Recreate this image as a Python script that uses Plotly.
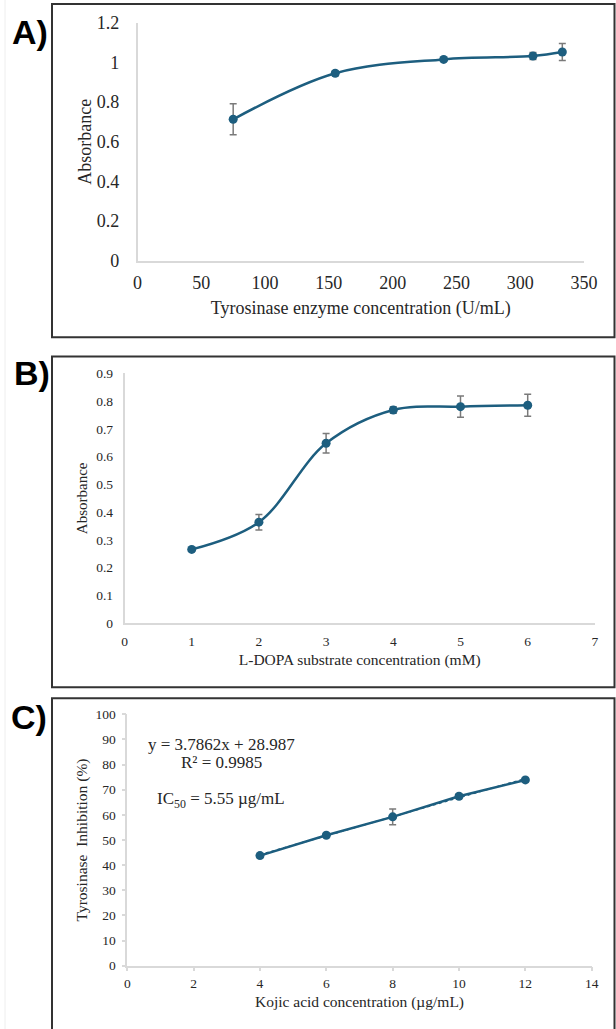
import plotly.graph_objects as go

W, H = 616, 1029

# ---------------- data ----------------
enzyme_conc = [75, 155, 240, 310, 333]
enzyme_abs = [0.713, 0.945, 1.015, 1.032, 1.052]
enzyme_err = [0.078, 0.012, 0.007, 0.018, 0.043]

dopa_conc = [1, 2, 3, 4, 5, 6]
dopa_abs = [0.266, 0.364, 0.648, 0.768, 0.780, 0.785]
dopa_err = [0.004, 0.028, 0.035, 0.012, 0.038, 0.040]

kojic_conc = [4, 6, 8, 10, 12]
kojic_inh = [43.8, 51.9, 59.2, 67.4, 73.9]
kojic_err = [0.8, 0.8, 3.1, 0.9, 0.8]
fit_slope = 3.7862
fit_intercept = 28.987

A_xticks = [0, 50, 100, 150, 200, 250, 300, 350]
A_yticks = [0, 0.2, 0.4, 0.6, 0.8, 1, 1.2]
A_yticklabels = ["0", "0.2", "0.4", "0.6", "0.8", "1", "1.2"]
B_xticks = [0, 1, 2, 3, 4, 5, 6, 7]
B_yticks = [0, 0.1, 0.2, 0.3, 0.4, 0.5, 0.6, 0.7, 0.8, 0.9]
C_xticks = [0, 2, 4, 6, 8, 10, 12, 14]
C_yticks = [0, 10, 20, 30, 40, 50, 60, 70, 80, 90, 100]

LINE = "#1d5e7f"
ERR = "#7a7a7a"
AXC = "#d9d9d9"
TXT = "#262626"
SERIF = "Liberation Serif"


def px(x):
    return x / W


def py(y):
    return 1 - y / H


fig = go.Figure()

# Panel A
fig.add_trace(go.Scatter(
    x=enzyme_conc, y=enzyme_abs, mode="lines+markers",
    line=dict(color=LINE, width=2.5, shape="spline", smoothing=1.0),
    marker=dict(color=LINE, size=9),
    error_y=dict(type="data", array=enzyme_err, color=ERR, thickness=1.5, width=3.5),
    xaxis="x", yaxis="y", showlegend=False))

# Panel B
fig.add_trace(go.Scatter(
    x=dopa_conc, y=dopa_abs, mode="lines+markers",
    line=dict(color=LINE, width=2.5, shape="spline", smoothing=1.0),
    marker=dict(color=LINE, size=9),
    error_y=dict(type="data", array=dopa_err, color=ERR, thickness=1.5, width=3.5),
    xaxis="x2", yaxis="y2", showlegend=False))

# Panel C
fig.add_trace(go.Scatter(
    x=kojic_conc, y=kojic_inh, mode="lines+markers",
    line=dict(color=LINE, width=2.5),
    marker=dict(color=LINE, size=9),
    error_y=dict(type="data", array=kojic_err, color=ERR, thickness=1.5, width=3.5),
    xaxis="x3", yaxis="y3", showlegend=False))
fit_x = [kojic_conc[0], kojic_conc[-1]]
fit_y = [fit_slope * v + fit_intercept for v in fit_x]
fig.add_trace(go.Scatter(
    x=fit_x, y=fit_y, mode="lines",
    line=dict(color=LINE, width=1.5, dash="dot"),
    xaxis="x3", yaxis="y3", showlegend=False))

base_axis = dict(showline=True, linecolor=AXC, linewidth=1.5, showgrid=False,
                 zeroline=False, ticks="", mirror=False, automargin=False)

fig.update_layout(
    width=W, height=H, margin=dict(l=0, r=0, t=0, b=0, autoexpand=False),
    paper_bgcolor="white", plot_bgcolor="white",
    font=dict(family=SERIF, color=TXT),
    xaxis=dict(base_axis, domain=[px(137.5), px(584)], range=[0, 350], anchor="y",
               tickvals=A_xticks, tickfont=dict(size=18, color=TXT), ticklabelstandoff=5,
               title=dict(text="Tyrosinase enzyme concentration (U/mL)",
                          font=dict(size=18, color=TXT), standoff=9)),
    yaxis=dict(base_axis, domain=[py(260.7), py(22.7)], range=[0, 1.2], anchor="x",
               tickvals=A_yticks, ticktext=A_yticklabels,
               tickfont=dict(size=18, color=TXT), ticklabelstandoff=13,
               title=dict(text="Absorbance", font=dict(size=18, color=TXT), standoff=0)),
    xaxis2=dict(base_axis, domain=[px(124.5), px(594.9)], range=[0, 7], anchor="y2",
                tickvals=B_xticks, tickfont=dict(size=13.5, color=TXT), ticklabelstandoff=5,
                title=dict(text="L-DOPA substrate concentration (mM)",
                           font=dict(size=15.5, color=TXT), standoff=6)),
    yaxis2=dict(base_axis, domain=[py(623.3), py(373.3)], range=[0, 0.9], anchor="x2",
                tickvals=B_yticks, tickfont=dict(size=13.5, color=TXT), ticklabelstandoff=7,
                title=dict(text="Absorbance", font=dict(size=15, color=TXT), standoff=5)),
    xaxis3=dict(base_axis, domain=[px(127.3), px(591.7)], range=[0, 14], anchor="y3",
                tickvals=C_xticks, ticks="outside", ticklen=4, tickcolor=AXC, tickwidth=1.5,
                tickfont=dict(size=13.5, color=TXT), ticklabelstandoff=0,
                title=dict(text="Kojic acid concentration (µg/mL)",
                           font=dict(size=15.5, color=TXT), standoff=6)),
    yaxis3=dict(base_axis, domain=[py(965.7), py(714.3)], range=[0, 100], anchor="x3",
                tickvals=C_yticks, ticks="outside", ticklen=4, tickcolor=AXC, tickwidth=1.5,
                tickfont=dict(size=13.5, color=TXT), ticklabelstandoff=3,
                title=dict(text="Tyrosinase  Inhibition (%)",
                           font=dict(size=15.5, color=TXT), standoff=4)),
)

shapes = []
for (t, b) in [(4, 337.3), (356.5, 687.3), (698.3, 1040)]:
    shapes.append(dict(type="rect", xref="paper", yref="paper",
                       x0=px(52), x1=px(614.5), y0=py(b), y1=py(t),
                       line=dict(color="#333333", width=2), fillcolor="rgba(0,0,0,0)"))
shapes.append(dict(type="line", xref="paper", yref="paper", x0=px(5), x1=px(5),
                   y0=0, y1=1, line=dict(color="#eeeeee", width=1)))
fig.update_layout(shapes=shapes)

annotations = []
for lab, (cx, cy) in {"A)": (30, 32), "B)": (32, 373), "C)": (29, 717)}.items():
    annotations.append(dict(text="<b>%s</b>" % lab, xref="paper", yref="paper",
                            x=px(cx), y=py(cy), xanchor="center", yanchor="middle",
                            showarrow=False,
                            font=dict(family="Liberation Sans", size=34, color="#000000")))

eq_text = [
    ("y = %.4fx + %.3f" % (fit_slope, fit_intercept), 744),
    ("R² = 0.9985", 762.7),
    ("IC<sub>50</sub> = 5.55 µg/mL", 800),
]
for txt, cy in eq_text:
    annotations.append(dict(text=txt, xref="paper", yref="paper", x=px(221), y=py(cy),
                            xanchor="center", yanchor="middle", showarrow=False,
                            font=dict(family=SERIF, size=17, color=TXT)))
fig.update_layout(annotations=annotations)

fig.write_html("out.html", config={"displayModeBar": False},
               post_script="document.body.style.margin='0';document.body.style.overflow='hidden';")
